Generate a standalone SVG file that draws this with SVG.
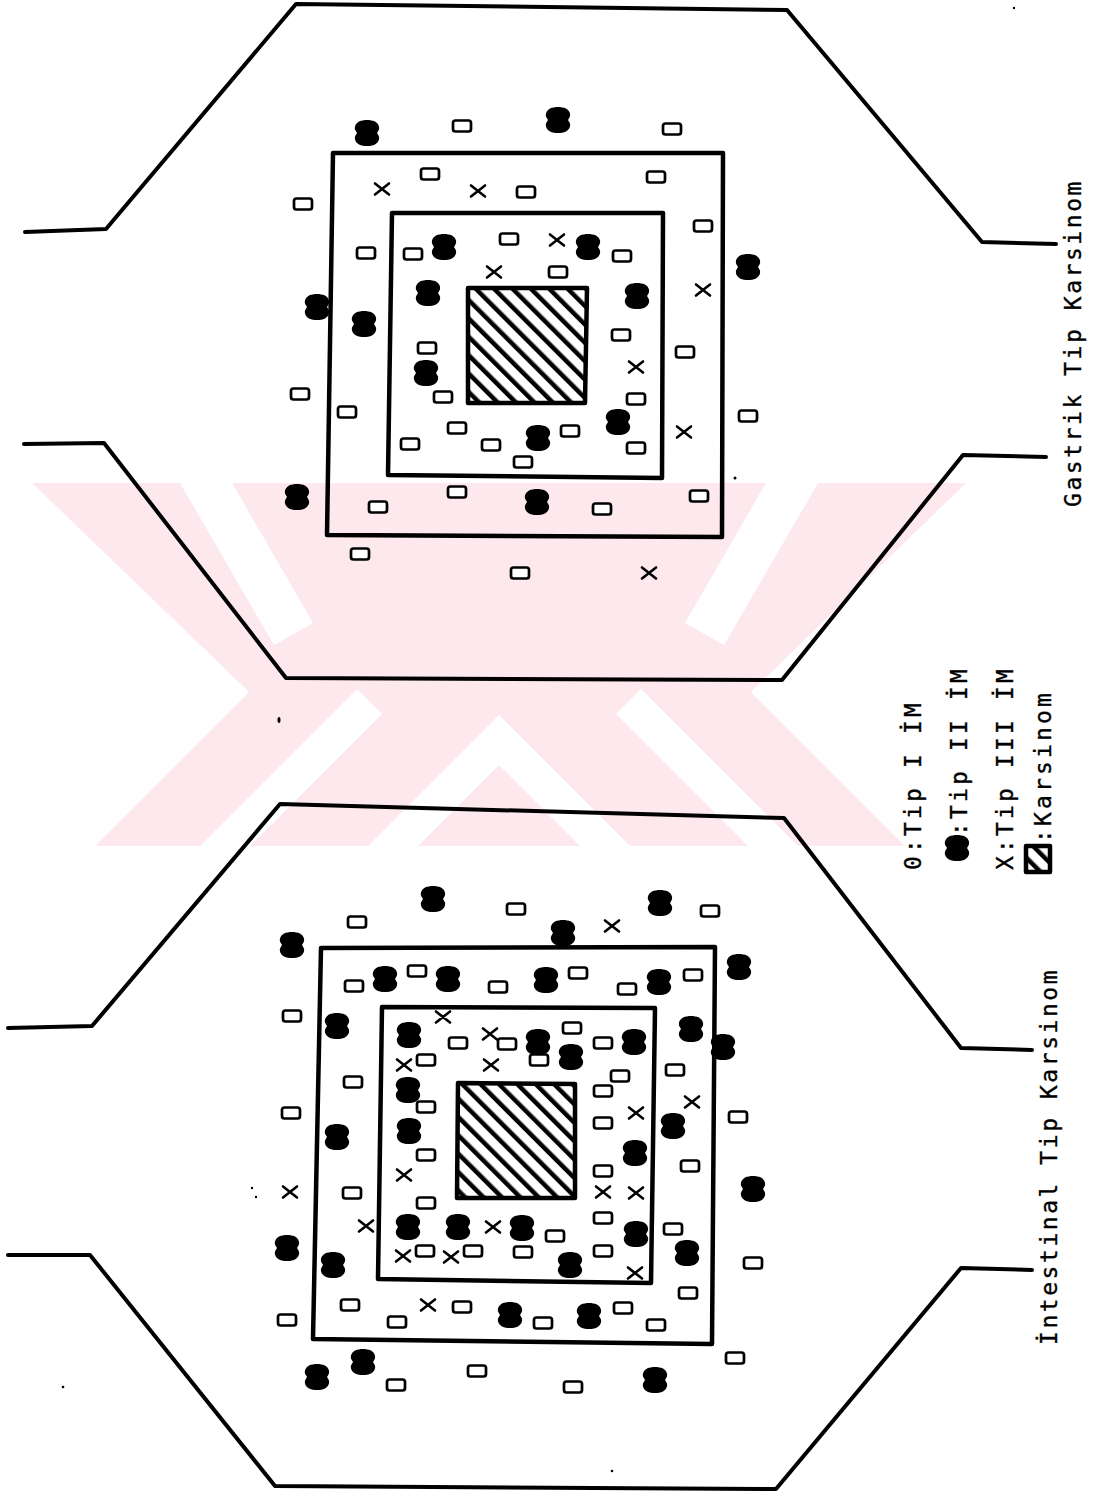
<svg xmlns="http://www.w3.org/2000/svg" width="1098" height="1494" viewBox="0 0 1098 1494">
<style>
.ln{fill:none;stroke:#000;stroke-width:4;stroke-linejoin:round;stroke-linecap:round}
.bx{fill:none;stroke:#000;stroke-width:4.5;stroke-linejoin:round}
.ca{fill:url(#hatch);stroke:#000;stroke-width:4.5;stroke-linejoin:round}
.t{font-family:"DejaVu Sans Mono","Liberation Mono",monospace;font-size:23px;fill:#000;stroke:#000;stroke-width:0.35px}
.tt{letter-spacing:2.55px}
.tl{letter-spacing:3.15px}
.wm{fill:#fde9ed}
.wh{fill:#fff}
</style>
<defs>
<pattern id="hatch" width="13" height="13" patternUnits="userSpaceOnUse" patternTransform="rotate(-45)">
<rect width="13" height="13" fill="#fff"/>
<rect width="4.5" height="13" fill="#000"/>
</pattern>
<rect id="r" x="-9" y="-5.5" width="18" height="11" rx="2.5" fill="#fff" stroke="#000" stroke-width="2.7"/>
<path id="x" d="M-7,-5.5 L7,5.5 M7,-5.5 L-7,5.5" fill="none" stroke="#000" stroke-width="2.6" stroke-linecap="round"/>
<path id="b" d="M-8,-11.5 C-3,-13.5 3,-13.5 8,-11.5 C12,-9 13,-5 11.5,-2.5 L10,0 L11.5,2.5 C13,5 12,9 8,11.5 C3,13.5 -3,13.5 -8,11.5 C-12,9 -13,5 -11.5,2.5 L-10,0 L-11.5,-2.5 C-13,-5 -12,-9 -8,-11.5 Z" fill="#000"/>
</defs>
<rect width="1098" height="1494" fill="#fff"/>
<g id="watermark">
<polygon class="wm" points="32,483 966,483 751,692 905,846 95,846 249,692"/>
<polygon class="wh" points="180,483 232,483 313,623 274,645"/>
<polygon class="wh" points="818,483 766,483 685,623 724,645"/>
<polygon class="wh" points="200,846 250,846 382,714 357,689"/>
<polygon class="wh" points="798,846 748,846 616,714 641,689"/>
<polygon class="wh" points="368,846 418,846 499,765 499,715"/>
<polygon class="wh" points="630,846 580,846 499,765 499,715"/>
</g>
<g id="specks" fill="#000">
<ellipse cx="279" cy="720" rx="1.5" ry="3"/>
<circle cx="735" cy="478" r="1.5"/>
<circle cx="63" cy="1387" r="1.3"/>
<circle cx="612" cy="1471" r="1.3"/>
<circle cx="252" cy="1188" r="1.2"/>
<circle cx="256" cy="1197" r="1.2"/>
<circle cx="1014" cy="8" r="1.2"/>
</g>
<g id="connectors">
<path class="ln" d="M25,232 L106,229 L296,4 L787,10 L982,242 L1056,244"/>
<path class="ln" d="M24,444 L104,443 L286,678 L782,680 L963,455 L1046,457"/>
<path class="ln" d="M8,1028 L92,1026 L280,804 L784,818 L961,1048 L1032,1050"/>
<path class="ln" d="M8,1255 L90,1255 L275,1486 L776,1489 L961,1268 L1032,1270"/>
</g>
<g id="gastrik">
<polygon class="bx" points="333,153 723,153 722,537 327,535"/>
<polygon class="bx" points="392,213 663,213 662,478 388,475"/>
<polygon class="ca" points="468,288 587,288 585,403 468,403"/>
<g id="g-tip2">
<use href="#b" x="367" y="133"/><use href="#b" x="558" y="120"/><use href="#b" x="748" y="267"/>
<use href="#b" x="317" y="307"/><use href="#b" x="364" y="324"/><use href="#b" x="444" y="247"/>
<use href="#b" x="588" y="247"/><use href="#b" x="428" y="293"/><use href="#b" x="637" y="296"/>
<use href="#b" x="426" y="373"/><use href="#b" x="618" y="422"/><use href="#b" x="538" y="438"/>
<use href="#b" x="297" y="497"/><use href="#b" x="537" y="502"/>
</g>
<g id="g-tip1">
<use href="#r" x="462" y="126"/><use href="#r" x="672" y="129"/><use href="#r" x="430" y="174"/>
<use href="#r" x="656" y="177"/><use href="#r" x="526" y="192"/><use href="#r" x="303" y="204"/>
<use href="#r" x="703" y="226"/><use href="#r" x="366" y="253"/><use href="#r" x="413" y="254"/>
<use href="#r" x="509" y="239"/><use href="#r" x="622" y="256"/><use href="#r" x="558" y="272"/>
<use href="#r" x="621" y="335"/><use href="#r" x="427" y="348"/><use href="#r" x="685" y="352"/>
<use href="#r" x="300" y="394"/><use href="#r" x="347" y="412"/><use href="#r" x="443" y="397"/>
<use href="#r" x="636" y="399"/><use href="#r" x="748" y="416"/><use href="#r" x="570" y="431"/>
<use href="#r" x="457" y="428"/><use href="#r" x="410" y="444"/><use href="#r" x="491" y="445"/>
<use href="#r" x="636" y="448"/><use href="#r" x="523" y="462"/><use href="#r" x="457" y="492"/>
<use href="#r" x="699" y="496"/><use href="#r" x="378" y="507"/><use href="#r" x="602" y="509"/>
<use href="#r" x="360" y="554"/><use href="#r" x="520" y="573"/>
</g>
<g id="g-tip3">
<use href="#x" x="382" y="189"/><use href="#x" x="478" y="191"/><use href="#x" x="557" y="240"/>
<use href="#x" x="494" y="272"/><use href="#x" x="703" y="290"/><use href="#x" x="636" y="367"/>
<use href="#x" x="684" y="432"/><use href="#x" x="649" y="573"/>
</g>
</g>
<g id="intestinal">
<polygon class="bx" points="321,948 715,947 712,1344 313,1339"/>
<polygon class="bx" points="382,1007 655,1008 651,1283 378,1279"/>
<polygon class="ca" points="458,1083 575,1084 575,1198 457,1198"/>
<g id="i-tip2">
<use href="#b" x="433" y="899"/><use href="#b" x="660" y="903"/><use href="#b" x="292" y="945"/>
<use href="#b" x="563" y="933"/><use href="#b" x="739" y="967"/><use href="#b" x="385" y="979"/>
<use href="#b" x="448" y="979"/><use href="#b" x="546" y="980"/><use href="#b" x="659" y="982"/>
<use href="#b" x="337" y="1026"/><use href="#b" x="409" y="1035"/><use href="#b" x="538" y="1042"/>
<use href="#b" x="634" y="1042"/><use href="#b" x="571" y="1057"/><use href="#b" x="691" y="1029"/>
<use href="#b" x="723" y="1047"/><use href="#b" x="408" y="1090"/><use href="#b" x="673" y="1126"/>
<use href="#b" x="409" y="1131"/><use href="#b" x="337" y="1137"/><use href="#b" x="635" y="1153"/>
<use href="#b" x="753" y="1189"/><use href="#b" x="408" y="1227"/><use href="#b" x="458" y="1227"/>
<use href="#b" x="522" y="1228"/><use href="#b" x="636" y="1234"/><use href="#b" x="287" y="1248"/>
<use href="#b" x="333" y="1265"/><use href="#b" x="687" y="1253"/><use href="#b" x="570" y="1265"/>
<use href="#b" x="510" y="1315"/><use href="#b" x="589" y="1316"/><use href="#b" x="363" y="1362"/>
<use href="#b" x="317" y="1377"/><use href="#b" x="655" y="1380"/>
</g>
<g id="i-tip1">
<use href="#r" x="357" y="922"/><use href="#r" x="516" y="909"/><use href="#r" x="710" y="911"/>
<use href="#r" x="417" y="971"/><use href="#r" x="354" y="986"/><use href="#r" x="498" y="987"/>
<use href="#r" x="578" y="973"/><use href="#r" x="627" y="989"/><use href="#r" x="693" y="975"/>
<use href="#r" x="292" y="1016"/><use href="#r" x="572" y="1028"/><use href="#r" x="458" y="1043"/>
<use href="#r" x="507" y="1044"/><use href="#r" x="603" y="1043"/><use href="#r" x="426" y="1060"/>
<use href="#r" x="539" y="1060"/><use href="#r" x="675" y="1070"/><use href="#r" x="620" y="1076"/>
<use href="#r" x="353" y="1082"/><use href="#r" x="603" y="1091"/><use href="#r" x="426" y="1107"/>
<use href="#r" x="291" y="1113"/><use href="#r" x="603" y="1123"/><use href="#r" x="738" y="1117"/>
<use href="#r" x="426" y="1155"/><use href="#r" x="690" y="1166"/><use href="#r" x="603" y="1171"/>
<use href="#r" x="352" y="1193"/><use href="#r" x="426" y="1203"/><use href="#r" x="603" y="1218"/>
<use href="#r" x="673" y="1229"/><use href="#r" x="555" y="1236"/><use href="#r" x="425" y="1251"/>
<use href="#r" x="473" y="1251"/><use href="#r" x="523" y="1252"/><use href="#r" x="603" y="1251"/>
<use href="#r" x="753" y="1263"/><use href="#r" x="688" y="1293"/><use href="#r" x="350" y="1305"/>
<use href="#r" x="462" y="1307"/><use href="#r" x="623" y="1308"/><use href="#r" x="287" y="1320"/>
<use href="#r" x="397" y="1322"/><use href="#r" x="543" y="1323"/><use href="#r" x="656" y="1325"/>
<use href="#r" x="735" y="1358"/><use href="#r" x="477" y="1371"/><use href="#r" x="396" y="1385"/>
<use href="#r" x="573" y="1387"/>
</g>
<g id="i-tip3">
<use href="#x" x="612" y="926"/><use href="#x" x="443" y="1017"/><use href="#x" x="490" y="1034"/>
<use href="#x" x="404" y="1065"/><use href="#x" x="491" y="1065"/><use href="#x" x="692" y="1102"/>
<use href="#x" x="636" y="1113"/><use href="#x" x="404" y="1175"/><use href="#x" x="290" y="1192"/>
<use href="#x" x="603" y="1192"/><use href="#x" x="636" y="1193"/><use href="#x" x="366" y="1226"/>
<use href="#x" x="493" y="1227"/><use href="#x" x="403" y="1256"/><use href="#x" x="451" y="1257"/>
<use href="#x" x="635" y="1273"/><use href="#x" x="428" y="1305"/>
</g>
</g>
<g id="legend">
<text class="t tl" transform="translate(921,870) rotate(-90)">0:Tip I İM</text>
<use href="#b" x="957" y="848"/>
<text class="t tl" transform="translate(967,836) rotate(-90)">:Tip II İM</text>
<text class="t tl" transform="translate(1013,870) rotate(-90)">X:Tip III İM</text>
<rect x="1026" y="846" width="24" height="26" class="ca" stroke-width="3.5"/>
<text class="t tl" transform="translate(1051,843) rotate(-90)">:Karsinom</text>
</g>
<g id="titles">
<text class="t tt" transform="translate(1081,507) rotate(-90)">Gastrik Tip Karsinom</text>
<text class="t tt" transform="translate(1057,1345) rotate(-90)">İntestinal Tip Karsinom</text>
</g>
</svg>
